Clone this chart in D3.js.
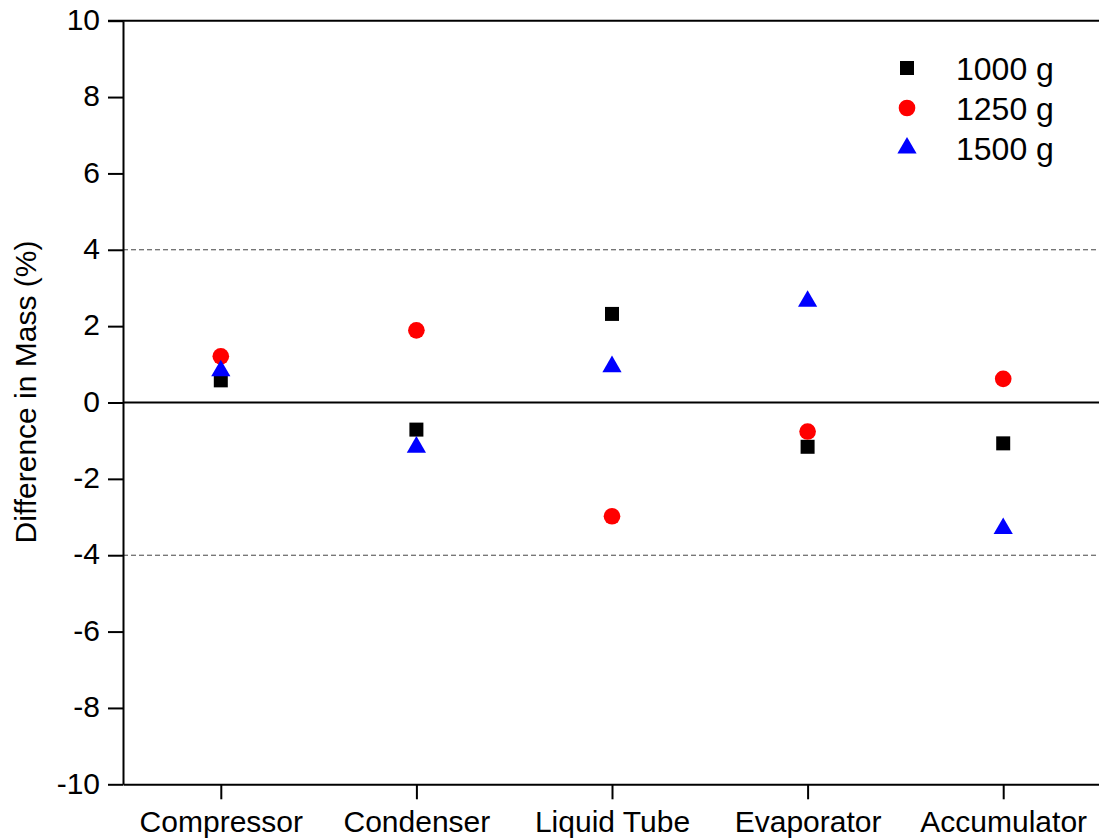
<!DOCTYPE html>
<html>
<head>
<meta charset="utf-8">
<script src="https://cdn.jsdelivr.net/npm/d3@7"></script>
<style>
  body { margin: 0; background: #fff; }
  svg { display: block; font-family: 'Liberation Sans', Arial, sans-serif; }
  .axis path, .axis line { stroke: #000; stroke-width: 2px; }
  .axis text { fill: #000; font-size: 30px; }
</style>
</head>
<body>
<svg id="chart" width="1099" height="839"></svg>
<script>
// Components along the x axis
const components = ['Compressor', 'Condenser', 'Liquid Tube', 'Evaporator', 'Accumulator'];

// Difference in mass (%) for each charge
const mass1000 = [0.58, -0.71, 2.32, -1.16, -1.07];
const mass1250 = [1.21, 1.89, -2.98, -0.76, 0.62];
const mass1500 = [0.83, -1.17, 0.94, 2.65, -3.30];

const seriesNames = ['1000 g', '1250 g', '1500 g'];
const yTicks = [-10, -8, -6, -4, -2, 0, 2, 4, 6, 8, 10];
const limitLines = [-4, 4];

const series = [
  { name: seriesNames[0], values: mass1000, symbol: d3.symbolSquare, size: 196, color: '#000000' },
  { name: seriesNames[1], values: mass1250, symbol: d3.symbolCircle, size: 218, color: '#ff0000' },
  { name: seriesNames[2], values: mass1500, symbol: d3.symbolTriangle, size: 160, color: '#0000ff' }
];

const svg = d3.select('#chart');

const margin = { top: 20.7, right: -2, bottom: 54.7, left: 123 };
const width = 1099 - margin.left - margin.right;
const height = 839 - margin.top - margin.bottom;

const g = svg.append('g')
  .attr('transform', `translate(${margin.left}, ${margin.top})`);

const xScale = d3.scalePoint()
  .domain(components)
  .range([0, width])
  .padding(0.5);

const yScale = d3.scaleLinear()
  .domain([-10, 10])
  .range([height, 0]);

// Dashed limit lines at +-4 %
g.selectAll('line.limit')
  .data(limitLines)
  .join('line')
  .attr('class', 'limit')
  .attr('x1', 0)
  .attr('x2', width)
  .attr('y1', d => yScale(d))
  .attr('y2', d => yScale(d))
  .attr('stroke', '#444')
  .attr('stroke-width', 1)
  .attr('stroke-dasharray', '5,3');

// Zero line
g.append('line')
  .attr('x1', 0)
  .attr('x2', width)
  .attr('y1', yScale(0))
  .attr('y2', yScale(0))
  .attr('stroke', '#000')
  .attr('stroke-width', 2);

// Top frame line
g.append('line')
  .attr('x1', -15)
  .attr('x2', width)
  .attr('y1', 0)
  .attr('y2', 0)
  .attr('stroke', '#000')
  .attr('stroke-width', 2);

// Axes (plain hyphen for negatives, like the original)
g.append('g')
  .attr('class', 'axis')
  .call(d3.axisLeft(yScale)
    .tickValues(yTicks)
    .tickFormat(d => String(d))
    .tickSize(15)
    .tickPadding(8)
    .tickSizeOuter(0))
  .call(a => a.selectAll('text').attr('dy', '0.29em'));

g.append('g')
  .attr('class', 'axis')
  .attr('transform', `translate(0, ${height})`)
  .call(d3.axisBottom(xScale).tickSize(15).tickPadding(11).tickSizeOuter(0));

// Y axis label
svg.append('text')
  .attr('transform', 'translate(36, 392) rotate(-90)')
  .attr('text-anchor', 'middle')
  .attr('font-size', '30px')
  .attr('fill', '#000')
  .text('Difference in Mass (%)');

// Data points
series.forEach(s => {
  g.append('g')
    .selectAll('path')
    .data(s.values)
    .join('path')
    .attr('d', d3.symbol().type(s.symbol).size(s.size))
    .attr('transform', (d, i) => `translate(${xScale(components[i])}, ${yScale(d)})`)
    .attr('fill', s.color);
});

// Legend
const legend = svg.append('g')
  .attr('transform', 'translate(907, 68)');

const legendRows = legend.selectAll('g')
  .data(series)
  .join('g')
  .attr('transform', (d, i) => `translate(0, ${i * 40})`);

legendRows.append('path')
  .attr('d', d => d3.symbol().type(d.symbol).size(d.size)())
  .attr('fill', d => d.color);

legendRows.append('text')
  .attr('x', 49)
  .attr('y', 11.5)
  .attr('font-size', '32px')
  .attr('fill', '#000')
  .text(d => d.name);
</script>
</body>
</html>
